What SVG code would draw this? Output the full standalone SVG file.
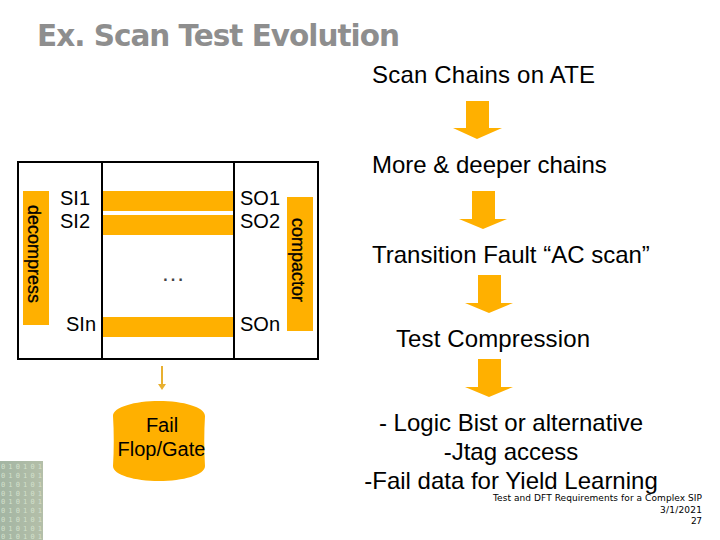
<svg xmlns="http://www.w3.org/2000/svg" width="720" height="540" viewBox="0 0 720 540">
<defs>
<linearGradient id="strip" x1="0" x2="1" y1="0" y2="0"><stop offset="0" stop-color="#a3b5a3"/><stop offset="1" stop-color="#b4bfa9"/></linearGradient>
</defs>
<style>
text{font-family:"Liberation Sans",Arial,sans-serif;fill:#000}
.t{font-size:24px}
.l{font-size:20px}
.o{fill:#ffb000}
.r{font-size:18px;stroke:#000;stroke-width:.3}
.b{font-size:9px;font-family:"DejaVu Sans",sans-serif}
.n{font-size:7px;font-family:"DejaVu Sans Mono",monospace;fill:#d3e0cc}
.w{fill:none;stroke:#000;stroke-width:2}
</style>
<rect width="720" height="540" fill="#fff"/>
<text x="37" y="46" font-size="29.5" font-weight="bold" style="fill:#8e8e8e;font-family:'DejaVu Sans',sans-serif" textLength="363">Ex. Scan Test Evolution</text>
<g id="binary-strip">
<rect x="0" y="461" width="43" height="79" fill="url(#strip)"/>
<text x="1" y="469" class="n" textLength="41">010101</text>
<text x="1" y="478" class="n" textLength="41">010101</text>
<text x="1" y="487" class="n" textLength="41">010101</text>
<text x="1" y="495.500" class="n" textLength="41">010101</text>
<text x="1" y="504" class="n" textLength="41">010101</text>
<text x="1" y="513" class="n" textLength="41">010101</text>
<text x="1" y="522" class="n" textLength="41">010101</text>
<text x="1" y="530.500" class="n" textLength="41">010101</text>
<text x="1" y="539" class="n" textLength="41">010101</text>
</g>
<g id="scan-block">
<rect x="18" y="162" width="300" height="197" class="w"/>
<path d="M102 162V359M234 162V359" class="w"/>
</g>
<g id="chains">
<rect x="103" y="191" width="130" height="20" class="o"/>
<rect x="103" y="215" width="130" height="20" class="o"/>
<rect x="103" y="317" width="130" height="20" class="o"/>
</g>
<g id="decompress">
<rect x="23" y="191" width="26" height="134" class="o"/>
<text class="r" transform="translate(28,254) rotate(90)" text-anchor="middle">decompress</text>
</g>
<g id="compactor">
<rect x="287" y="197" width="26" height="134" class="o"/>
<text class="r" transform="translate(292,260) rotate(90)" text-anchor="middle">compactor</text>
</g>
<g id="labels">
<text x="60" y="205" class="l">SI1</text>
<text x="60" y="228" class="l">SI2</text>
<text x="66" y="331" class="l">SIn</text>
<text x="240" y="205" class="l">SO1</text>
<text x="240" y="228" class="l">SO2</text>
<text x="240" y="331" class="l">SOn</text>
<text x="173" y="281" class="t" text-anchor="middle" style="fill:#444">…</text>
</g>
<g id="connectors">
<path d="M162 366V386" stroke="#e8b030" stroke-width="2" fill="none"/>
<path d="M158 384L162 390L166 384Z" fill="#e8b030"/>
<path class="o" d="M466 101H489V128H502L477 139L453 128H466Z"/>
<path class="o" d="M472 191H495V219H507L483 229L459 219H472Z"/>
<path class="o" d="M478 275H501V303H513L489 313L465 303H478Z"/>
<path class="o" d="M478 359H501V387H513L489 397L465 387H478Z"/>
</g>
<g id="fail-store">
<path class="o" d="M113 416C113 407 135 401 159 401C183 401 205 407 205 416C204 432 204 450 205 466C205 475 183 481 159 481C135 481 113 475 113 466C114 450 114 432 113 416Z"/>
<text x="162" y="432" class="l" text-anchor="middle">Fail</text>
<text x="161.500" y="456" class="l" text-anchor="middle">Flop/Gate</text>
</g>
<g id="steps">
<text x="372" y="83" class="t" textLength="223">Scan Chains on ATE</text>
<text x="372" y="173" class="t">More &amp; deeper chains</text>
<text x="372" y="263" class="t">Transition Fault “AC scan”</text>
<text x="396" y="347" class="t" textLength="194">Test Compression</text>
<text x="511" y="431" class="t" text-anchor="middle">- Logic Bist or alternative</text>
<text x="511" y="460" class="t" text-anchor="middle">-Jtag access</text>
<text x="511" y="489" class="t" text-anchor="middle">-Fail data for Yield Learning</text>
</g>
<g id="footer">
<text x="493" y="501" class="b" textLength="209">Test and DFT Requirements for a Complex SIP</text>
<text x="660" y="513" class="b" textLength="42">3/1/2021</text>
<text x="691" y="524" class="b" textLength="11">27</text>
</g>
</svg>
